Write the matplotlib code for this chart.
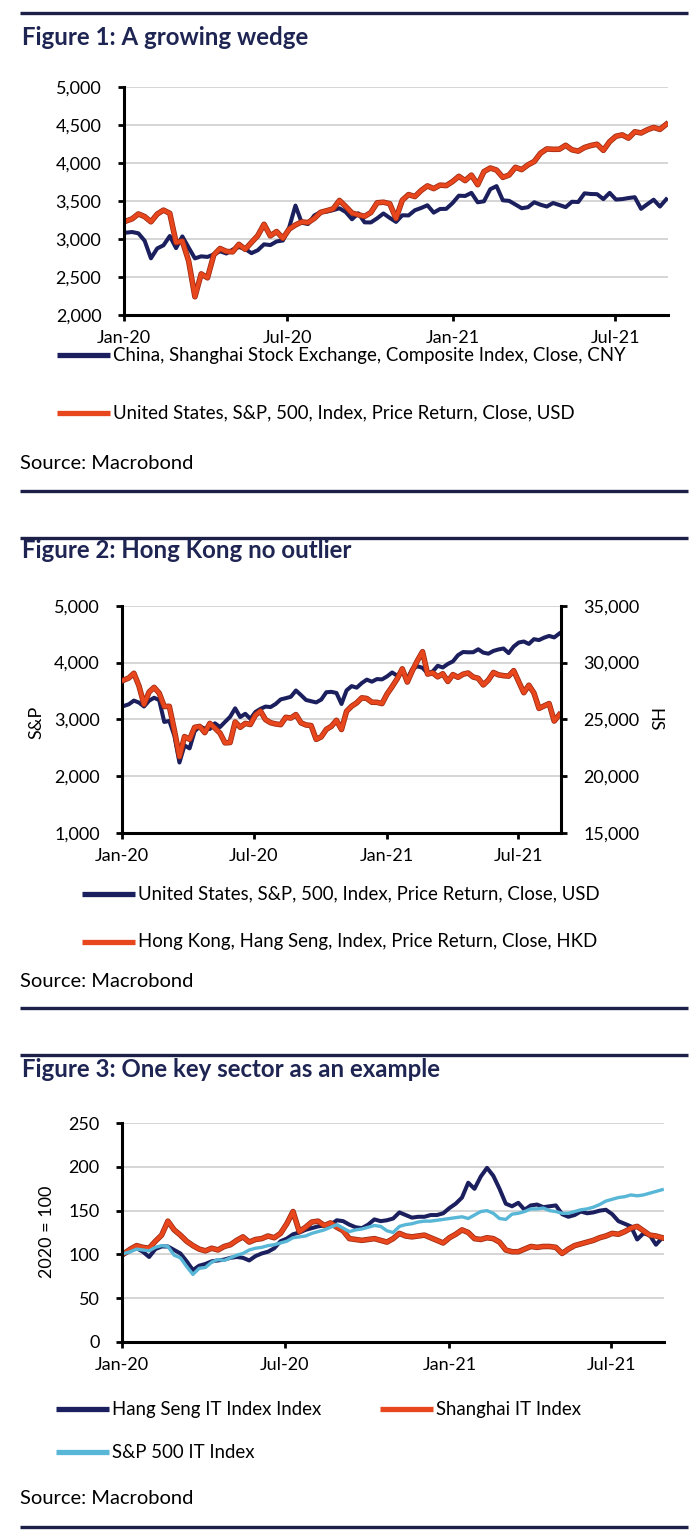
import matplotlib
matplotlib.use("Agg")
import matplotlib.pyplot as plt
import matplotlib.dates as mdates
import matplotlib.patheffects as pe
from matplotlib.lines import Line2D
from matplotlib.ticker import FuncFormatter, MultipleLocator
import pandas as pd

plt.rcParams['font.family'] = ['Lato', 'DejaVu Sans']

# weekly closes (Fridays), Jan 2020 - Aug 2021
weeks = pd.date_range('2020-01-03', periods=87, freq='7D')

spx = [3235, 3265, 3330, 3295, 3226, 3328, 3380, 3338, 2954, 2972, 2711, 2240, 2541,
       2489, 2790, 2875, 2837, 2831, 2930, 2864, 2955, 3044, 3194, 3041, 3098, 3009,
       3130, 3185, 3225, 3216, 3271, 3351, 3373, 3397, 3508, 3427, 3341, 3319, 3298,
       3348, 3477, 3484, 3465, 3270, 3510, 3585, 3558, 3638, 3699, 3663, 3709, 3703,
       3756, 3825, 3768, 3841, 3714, 3887, 3934, 3907, 3811, 3842, 3943, 3913, 3975,
       4020, 4129, 4185, 4180, 4181, 4233, 4174, 4156, 4204, 4230, 4247, 4166, 4281,
       4352, 4370, 4327, 4411, 4395, 4437, 4468, 4442, 4509]

shcomp = [3083, 3092, 3075, 2977, 2746, 2876, 2917, 3039, 2880, 3034, 2887, 2745, 2772,
          2764, 2797, 2839, 2809, 2860, 2895, 2868, 2814, 2852, 2930, 2920, 2968, 2980,
          3152, 3440, 3214, 3197, 3310, 3354, 3361, 3380, 3404, 3355, 3260, 3338, 3219,
          3218, 3272, 3336, 3278, 3225, 3312, 3310, 3378, 3408, 3444, 3347, 3395, 3397,
          3473, 3570, 3566, 3607, 3483, 3496, 3655, 3696, 3509, 3502, 3454, 3405, 3418,
          3484, 3451, 3427, 3474, 3447, 3419, 3490, 3487, 3601, 3592, 3590, 3525, 3607,
          3519, 3525, 3539, 3550, 3397, 3458, 3517, 3427, 3522]

hsi = [28452, 28638, 29056, 27950, 26313, 27404, 27816, 27309, 26130, 26146, 24033, 21710,
       23484, 23236, 24300, 24380, 23831, 24644, 24230, 23797, 22930, 22961, 24770, 24301,
       24644, 24549, 25373, 25727, 24971, 24705, 24595, 24532, 25183, 25113, 25422, 24695,
       24503, 24455, 23235, 23459, 24119, 24386, 24918, 24107, 25712, 26157, 26451, 26894,
       26835, 26506, 26498, 26387, 27231, 27878, 28573, 29447, 28284, 29289, 30173, 30950,
       28980, 29098, 28740, 29014, 28336, 28939, 28699, 28970, 29079, 28725, 28610, 28027,
       28458, 29124, 28918, 28842, 28801, 29288, 28310, 27344, 28004, 27322, 25961, 26179,
       26391, 24849, 25407]

# sector indices, start of 2020 = 100
hs_it = [100, 104, 107, 103, 97, 106, 109, 109, 105, 101,
         92, 82, 87, 89, 92, 93, 94, 96, 97, 96,
         93, 98, 101, 103, 107, 115, 118, 123, 125, 128,
         130, 132, 133, 134, 139, 138, 134, 131, 130, 134,
         140, 138, 139, 141, 148, 145, 142, 143, 143, 145,
         145, 147, 153, 158, 165, 182, 175, 189, 199, 190,
         175, 158, 155, 159, 151, 156, 157, 154, 155, 156,
         146, 143, 145, 149, 147, 148, 150, 151, 146, 138,
         135, 132, 117, 124, 122, 111, 119]

sh_it = [101, 106, 110, 108, 107, 115, 122, 138, 128, 122,
         115, 110, 106, 104, 107, 105, 109, 111, 116, 120,
         114, 117, 118, 121, 119, 124, 135, 149, 126, 131,
         137, 138, 133, 136, 131, 127, 118, 117, 116, 117,
         118, 116, 114, 118, 124, 121, 120, 121, 122, 119,
         116, 113, 119, 123, 128, 125, 118, 117, 119, 118,
         114, 105, 103, 103, 106, 109, 108, 109, 109, 108,
         101, 106, 110, 112, 114, 116, 119, 121, 124, 123,
         126, 130, 132, 127, 122, 121, 119]

spx_it = [101, 103, 106, 105, 104, 108, 110, 109, 99, 96,
          86, 77, 84, 85, 91, 94, 93, 96, 99, 101,
          105, 107, 108, 110, 111, 113, 115, 119, 120, 121,
          124, 126, 128, 131, 134, 130, 126, 128, 129, 131,
          133, 132, 127, 125, 132, 134, 135, 137, 138, 138,
          139, 140, 141, 142, 143, 141, 145, 149, 150, 147,
          141, 140, 146, 147, 149, 152, 152, 153, 150, 149,
          147, 147, 149, 151, 152, 154, 157, 161, 163, 165,
          166, 168, 167, 168, 170, 172, 174]

NAVY = '#1b1f5e'
ORANGE = '#e8461c'
LBLUE = '#58b6d6'
RULE = '#1c2048'
TITLE = '#1f2553'
GRID = '#d2d2d2'

TICK_FS = 13
KEY_FS = 13.4
TITLE_FS = 17.3
SOURCE_FS = 14.5

fig = plt.figure(figsize=(7, 15.36), dpi=100)


def fx(px):
    return px / 700


def fy(py):
    return 1 - py / 1536


def add_rule(y):
    fig.add_artist(Line2D([fx(20), fx(688)], [fy(y), fy(y)], color=RULE, lw=2.4,
                          solid_capstyle='butt'))


def add_key(x0, y, color, label):
    fig.add_artist(Line2D([fx(x0), fx(x0 + 53)], [fy(y), fy(y)], color=color, lw=3.8,
                          solid_capstyle='butt'))
    fig.text(fx(x0 + 56), fy(y), label, fontsize=KEY_FS, va='center', ha='left')


def style_axes(ax, ylim, step):
    ax.set_xlim(pd.Timestamp('2020-01-01'), pd.Timestamp('2021-08-29'))
    ax.set_ylim(*ylim)
    ax.yaxis.set_major_locator(MultipleLocator(step))
    ax.yaxis.set_major_formatter(FuncFormatter(lambda v, p: f'{v:,.0f}'))
    ax.xaxis.set_major_locator(mdates.MonthLocator(bymonth=[1, 7]))
    ax.xaxis.set_major_formatter(mdates.DateFormatter('%b-%y'))
    ax.grid(axis='y', color=GRID, lw=1.3)
    ax.set_axisbelow(True)
    for s in ['top', 'right']:
        ax.spines[s].set_visible(False)
    for s in ['left', 'bottom']:
        ax.spines[s].set_linewidth(2.2)
    ax.tick_params(axis='both', direction='out', length=4.3, width=2, labelsize=TICK_FS)
    ax.tick_params(axis='y', pad=12)
    ax.tick_params(axis='x', pad=6.5)


orange_fx = [pe.Stroke(linewidth=4.0, foreground='#9b2a12'), pe.Normal()]

# ---- Figure 1 ----
add_rule(13)
fig.text(fx(22), fy(45), 'Figure 1: A growing wedge', fontsize=TITLE_FS, fontweight='bold',
         color=TITLE, ha='left', va='baseline')
ax1 = fig.add_axes([fx(124), fy(315), 544 / 700, 228 / 1536])
ax1.plot(weeks, shcomp, color=NAVY, lw=2.9)
ax1.plot(weeks, spx, color=ORANGE, lw=2.9, path_effects=orange_fx)
style_axes(ax1, (2000, 5000), 500)
add_key(57, 355, NAVY, 'China, Shanghai Stock Exchange, Composite Index, Close, CNY')
add_key(57, 413, ORANGE, 'United States, S&P, 500, Index, Price Return, Close, USD')
fig.text(fx(20), fy(469), 'Source: Macrobond', fontsize=SOURCE_FS, ha='left', va='baseline')
add_rule(491)

# ---- Figure 2 ----
add_rule(538)
fig.text(fx(22), fy(558), 'Figure 2: Hong Kong no outlier', fontsize=TITLE_FS,
         fontweight='bold', color=TITLE, ha='left', va='baseline')
ax2 = fig.add_axes([fx(122.3), fy(833), 438.4 / 700, 227.3 / 1536])
ax2.plot(weeks, spx, color=NAVY, lw=2.9)
style_axes(ax2, (1000, 5000), 1000)
ax2r = ax2.twinx()
ax2r.plot(weeks, hsi, color=ORANGE, lw=2.9, path_effects=orange_fx)
ax2r.set_ylim(15000, 35000)
ax2r.yaxis.set_major_locator(MultipleLocator(5000))
ax2r.yaxis.set_major_formatter(FuncFormatter(lambda v, p: f'{v:,.0f}'))
for s in ['top', 'left', 'bottom']:
    ax2r.spines[s].set_visible(False)
ax2r.spines['right'].set_linewidth(2.2)
ax2r.tick_params(axis='y', direction='out', length=4.3, width=2, labelsize=TICK_FS, pad=12)
fig.text(fx(36), fy(722), 'S&P', fontsize=TICK_FS, rotation=90, ha='center', va='center')
fig.text(fx(654), fy(720), 'HS', fontsize=TICK_FS, rotation=270, ha='center', va='center')
add_key(82, 894, NAVY, 'United States, S&P, 500, Index, Price Return, Close, USD')
add_key(82, 942, ORANGE, 'Hong Kong, Hang Seng, Index, Price Return, Close, HKD')
fig.text(fx(20), fy(987), 'Source: Macrobond', fontsize=SOURCE_FS, ha='left', va='baseline')
add_rule(1008)

# ---- Figure 3 ----
add_rule(1055)
fig.text(fx(22), fy(1077), 'Figure 3: One key sector as an example', fontsize=TITLE_FS,
         fontweight='bold', color=TITLE, ha='left', va='baseline')
ax3 = fig.add_axes([fx(122.3), fy(1341.7), 541.7 / 700, 218.4 / 1536])
ax3.plot(weeks, hs_it, color=NAVY, lw=2.9)
ax3.plot(weeks, sh_it, color=ORANGE, lw=2.9, path_effects=orange_fx)
ax3.plot(weeks, spx_it, color=LBLUE, lw=2.4)
style_axes(ax3, (0, 250), 50)
fig.text(fx(47), fy(1232), '2020 = 100', fontsize=TICK_FS, rotation=90, ha='center',
         va='center')
add_key(56, 1409, NAVY, 'Hang Seng IT Index Index')
add_key(380, 1409, ORANGE, 'Shanghai IT Index')
add_key(56, 1452, LBLUE, 'S&P 500 IT Index')
fig.text(fx(20), fy(1504), 'Source: Macrobond', fontsize=SOURCE_FS, ha='left', va='baseline')
add_rule(1527)

fig.savefig('out.png', dpi=100)
